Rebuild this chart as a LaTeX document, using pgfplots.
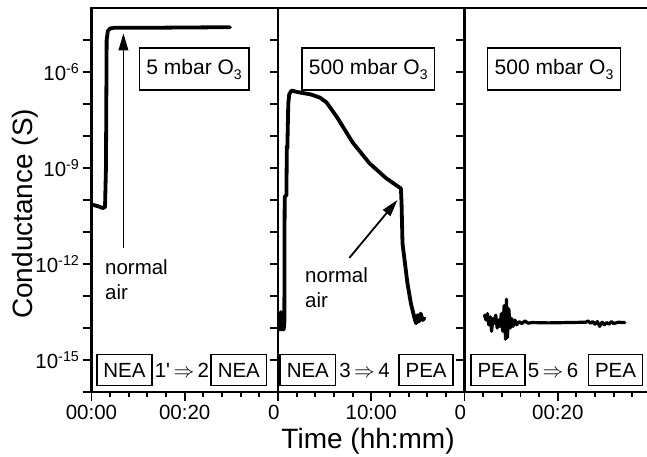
\documentclass[border=0pt]{standalone}
\usepackage{fontspec}
\setmainfont{Liberation Sans}
\usepackage{pgfplots}
\pgfplotsset{compat=1.18}
\usetikzlibrary{arrows.meta}

\pgfplotsset{
  panel/.style={
    scale only axis, width=186.5pt, height=384pt,
    ymin=-16, ymax=-4, xmin=0,
    axis line style={line width=2.1pt},
    tick style={line width=1.9pt, black},
    major tick length=8.5pt, minor tick length=5pt,
    tick align=outside,
    xtick pos=bottom, ytick pos=left,
    ytick={-16,...,-5},
    yticklabels={},
    minor x tick num=4,
    tick label style={font=\fontsize{20.5}{24}\selectfont},
    xticklabel style={yshift=-1pt},
  },
}
\tikzset{
  curve/.style={black, line width=3.8pt, line join=round, line cap=round},
  sbox/.style={draw, line width=1.6pt, fill=white, inner xsep=6.5pt, minimum height=31pt, font=\fontsize{20.5}{24}\selectfont},
  tbox/.style={draw, line width=1.6pt, fill=white, inner xsep=7pt, minimum height=42pt, font=\fontsize{21}{25}\selectfont},
  ann/.style={font=\fontsize{20.5}{24}\selectfont, anchor=base west, inner sep=0pt},
  arr/.style={line width=1.8pt, -{Triangle[length=17pt,width=9.5pt]}},
}
\newcommand{\sub}[1]{\raisebox{-0.45ex}{\fontsize{14}{16}\selectfont #1}}

\begin{document}
\begin{tikzpicture}
% ---------------- panel 1 (minutes) ----------------
\begin{axis}[panel, name=p1, at={(0pt,0pt)}, anchor=south west,
  xmax=40, xtick={0,20,40}, xticklabels={00:00,00:20,},
  yticklabels={,10\textsuperscript{-15},,,10\textsuperscript{-12},,,10\textsuperscript{-9},,,10\textsuperscript{-6},},
  ylabel={Conductance (S)},
  every axis y label/.style={at={(rel axis cs:-0.314,0.464)}, rotate=90, anchor=base, font=\fontsize{28}{32}\selectfont},
]
\addplot[curve, no markers] coordinates {
 (0,-10.14) (1.5,-10.2) (2.4,-10.25) (2.9,-10.22) (3.1,-9.0) (3.25,-5.0)
 (3.5,-4.72) (4.0,-4.64) (4.8,-4.62) (10,-4.62) (20,-4.61) (29.7,-4.60)
};
\draw[arr] (axis cs:6.85,-11.5) -- (axis cs:6.85,-4.79);
\node[tbox] at (rel axis cs:0.55,0.841) {5 mbar O\sub{3}};
\node[ann] at (rel axis cs:0.072,0.305) {normal};
\node[ann] at (rel axis cs:0.072,0.240) {air};
\node[sbox] at (rel axis cs:0.177,0.057) {NEA};
\node[font=\fontsize{20.5}{24}\selectfont, inner sep=0pt] at (rel axis cs:0.485,0.057) {1\textquotesingle\,$\Rightarrow$\,2};
\node[sbox] at (rel axis cs:0.79,0.057) {NEA};
\end{axis}

% ---------------- panel 2 (hours) ----------------
\begin{axis}[panel, name=p2, at={(186.5pt,0pt)}, anchor=south west,
  xmax=20, xtick={0,10,20}, xticklabels={\makebox[0pt][r]{0\kern-1.5pt},10:00,},
  xlabel={Time (hh:mm)},
  every axis x label/.style={at={(rel axis cs:0.483,-0.146)}, anchor=base, font=\fontsize{28}{32}\selectfont},
]
\addplot[curve, no markers] coordinates {
 (0.15,-13.6) (0.2,-14.05) (0.3,-13.5) (0.4,-14.05) (0.5,-13.6) (0.6,-14.05) (0.68,-13.9)
 (0.70,-11.0) (0.72,-9.9) (0.9,-9.85) (0.95,-8.3) (1.0,-8.4) (1.1,-7.0) (1.2,-6.7)
 (1.45,-6.58) (2.0,-6.62) (2.5,-6.65) (3.5,-6.70) (4.5,-6.80) (5.2,-6.95)
 (6.3,-7.40) (8.0,-8.20) (9.8,-8.85) (11.6,-9.32) (13.18,-9.64)
 (13.25,-10.1) (13.35,-11.35) (13.88,-12.6) (14.25,-13.23) (14.6,-13.65)
 (14.8,-13.85) (14.95,-13.6) (15.1,-13.8) (15.3,-13.55) (15.5,-13.75) (15.7,-13.7)
};
\draw[arr] (axis cs:7.65,-11.81) -- (axis cs:12.81,-10.0);
\node[tbox] at (rel axis cs:0.484,0.841) {500 mbar O\sub{3}};
\node[ann] at (rel axis cs:0.145,0.284) {normal};
\node[ann] at (rel axis cs:0.145,0.219) {air};
\node[sbox] at (rel axis cs:0.16,0.057) {NEA};
\node[font=\fontsize{20.5}{24}\selectfont, inner sep=0pt] at (rel axis cs:0.464,0.057) {3\,$\Rightarrow$\,4};
\node[sbox] at (rel axis cs:0.794,0.057) {PEA};
\end{axis}

% ---------------- panel 3 (minutes) ----------------
\begin{axis}[panel, name=p3, at={(373pt,0pt)}, anchor=south west,
  xmax=40, xtick={0,20,40}, xticklabels={\makebox[0pt][r]{0\kern-1.5pt},00:20,},
]
\addplot[curve, no markers, line width=3.2pt] coordinates {
 (4.3,-13.6) (4.6,-13.75) (4.9,-13.55) (5.2,-13.9) (5.5,-13.65) (5.8,-14.1)
 (6.1,-13.7) (6.4,-13.85) (6.7,-13.6) (7.0,-14.0) (7.3,-13.75) (7.6,-13.95)
 (7.9,-13.55) (8.2,-14.1) (8.5,-13.3) (8.8,-14.35) (9.0,-13.1) (9.2,-14.3)
 (9.5,-13.4) (9.8,-14.0) (10.1,-13.7) (10.4,-13.95) (10.8,-13.75) (11.2,-13.9)
 (11.7,-13.8) (12.3,-13.86) (13.0,-13.78) (13.6,-13.85) (14.5,-13.83)
 (18,-13.84) (22,-13.83) (26.0,-13.82) (26.5,-13.78) (27.0,-13.85) (27.5,-13.8)
 (28.0,-13.88) (28.5,-13.8) (29.0,-13.95) (29.5,-13.82) (30.0,-13.9)
 (30.5,-13.83) (31.0,-13.88) (31.5,-13.8) (32.0,-13.86) (33.0,-13.82) (34.4,-13.83)
};
\node[tbox] at (rel axis cs:0.48,0.841) {500 mbar O\sub{3}};
\node[sbox] at (rel axis cs:0.18,0.057) {PEA};
\node[font=\fontsize{20.5}{24}\selectfont, inner sep=0pt] at (rel axis cs:0.475,0.057) {5\,$\Rightarrow$\,6};
\node[sbox] at (rel axis cs:0.81,0.057) {PEA};
\end{axis}

\pgfresetboundingbox
\path[use as bounding box] (-91.5pt,-65pt) rectangle (555.5pt,392pt);
\end{tikzpicture}
\end{document}
